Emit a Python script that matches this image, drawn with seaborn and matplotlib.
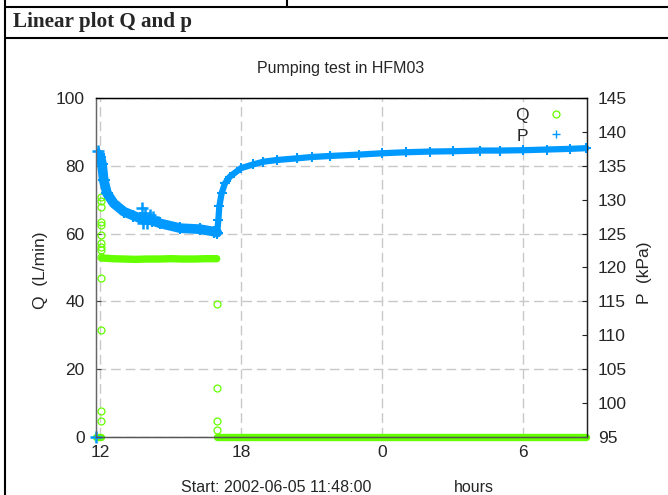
import seaborn as sns
import matplotlib.pyplot as plt
from matplotlib.lines import Line2D

# -------- DATA --------
# time axis: clock hours on 2002-06-05, values above 24 are the next morning
# Q (L/min), left axis
q_start_hours = [11.82, 11.86, 11.90, 11.94, 11.98, 12.01]
q_start_vals = [0, 0, 0, 0, 0, 0]

q_jump_hours = [12.02, 12.02, 12.03, 12.03, 12.04, 12.04, 12.04,
                12.03, 12.03, 12.03, 12.03, 12.02, 12.02, 12.02]
q_jump_vals = [7.8, 4.8, 31.5, 46.8, 53.2, 55.2, 56.1,
               57.1, 59.6, 62.5, 63.5, 67.9, 69.7, 70.9]

q_pump_hours = [12.08, 12.5, 13.0, 13.5, 14.0, 14.5, 15.0, 15.5, 16.0, 16.5, 16.95]
q_pump_vals = [52.8, 52.6, 52.5, 52.4, 52.5, 52.5, 52.6, 52.5, 52.5, 52.6, 52.6]

q_stop_hours = [16.97, 16.97, 16.97, 16.97]
q_stop_vals = [39.2, 14.4, 4.8, 2.1]

q_rest_hours = [16.98, 18.0, 20.0, 22.0, 24.0, 26.0, 28.0, 30.0, 32.68]
q_rest_vals = [0, 0, 0, 0, 0, 0, 0, 0, 0]

# P (kPa), right axis
p_first_hours = [11.82]
p_first_vals = [95.0]

p_pump_hours = [11.87, 11.93, 12.00, 12.07, 12.14, 12.28, 12.57, 12.99, 13.40,
                13.70, 14.20, 14.55, 15.40, 16.25, 16.82, 16.97]
p_pump_vals = [136.6, 136.7, 136.3, 135.2, 132.9, 130.95, 129.45, 128.25, 127.65,
               127.25, 126.9, 126.5, 125.8, 125.65, 125.3, 125.15]

p_noise_hours = [11.90, 13.75, 13.80, 13.90, 14.00, 14.10, 14.25]
p_noise_vals = [137.2, 128.75, 126.5, 128.0, 126.6, 127.75, 127.4]

p_recov_hours = [16.97, 17.02, 17.06, 17.16, 17.30, 17.51, 17.98, 18.50, 18.93, 19.50,
                 20.36, 21.00, 21.77, 23.00, 23.99, 25.00, 26.01, 27.00, 28.14, 29.00,
                 30.00, 31.00, 32.00, 32.68]
p_recov_vals = [125.15, 127.0, 129.0, 130.95, 132.4, 133.4, 134.65, 135.2, 135.6, 135.85,
                136.1, 136.3, 136.45, 136.65, 136.85, 137.0, 137.1, 137.15, 137.25, 137.25,
                137.3, 137.4, 137.5, 137.6]

x_ticks = [12, 18, 24, 30]
x_tick_labels = ["12", "18", "0", "6"]

# -------- STYLE --------
green = "#66ff00"
blue = "#0099ff"
grid_col = "#c8c8c8"
fs = 12.5

sns.set_style("white")
plt.rcParams["font.family"] = ["Liberation Sans", "DejaVu Sans"]

fig = plt.figure(figsize=(6.68, 4.95), dpi=100)
ax = fig.add_axes([0.1433, 0.1172, 0.7350, 0.6848])
ax2 = ax.twinx()

# -------- Q --------
for hx, hy in [(q_start_hours, q_start_vals), (q_pump_hours, q_pump_vals),
               (q_rest_hours, q_rest_vals)]:
    sns.lineplot(x=hx, y=hy, ax=ax, color=green, lw=5.3, sort=False,
                 estimator=None, solid_capstyle="round", clip_on=False)
for hx, hy in [(q_jump_hours, q_jump_vals), (q_stop_hours, q_stop_vals)]:
    sns.lineplot(x=hx, y=hy, ax=ax, color=green, linestyle="", marker="o",
                 mfc="none", mec=green, ms=5, mew=0.9, sort=False, estimator=None)

# -------- P --------
sns.lineplot(x=p_pump_hours, y=p_pump_vals, ax=ax2, color=blue, lw=7, sort=False,
             estimator=None, solid_capstyle="round", marker="+", ms=8, mew=1.5,
             mec=blue)
sns.lineplot(x=p_recov_hours, y=p_recov_vals, ax=ax2, color=blue, lw=4.5, sort=False,
             estimator=None, solid_capstyle="round", marker="+", ms=7.5, mew=1.5,
             mec=blue, clip_on=False)
sns.lineplot(x=p_noise_hours + p_first_hours, y=p_noise_vals + p_first_vals, ax=ax2,
             color=blue, linestyle="", marker="+", ms=8, mew=1.8, mec=blue, sort=False,
             estimator=None, clip_on=False)

# -------- AXES --------
ax.set_xlim(11.8, 32.7)
ax.set_ylim(0, 100)
ax2.set_ylim(95, 145)
ax.set_xticks(x_ticks)
ax.set_xticklabels(x_tick_labels)
ax.set_xticks([12 + 0.5 * i for i in range(42)], minor=True)
ax.set_yticks([0, 20, 40, 60, 80, 100])
ax2.set_yticks(list(range(95, 150, 5)))
ax.set_xlabel("")
ax.set_ylabel("")
ax2.set_ylabel("")

ax.grid(True, color=grid_col, lw=1.0, linestyle=(0, (7, 3.5)))
ax.set_axisbelow(True)

ax.tick_params(axis="both", which="major", direction="in", length=3.5, width=0.8,
               labelsize=fs, color="#444444", pad=8)
ax.tick_params(axis="x", which="minor", direction="in", length=2.5, width=0.8,
               color="#444444")
ax.tick_params(axis="x", which="major", pad=6)
ax2.tick_params(axis="y", direction="in", length=3.5, width=0.8, labelsize=fs,
                color="#222222", pad=8)

for a in (ax, ax2):
    a.spines["left"].set_color("#666666")
    a.spines["bottom"].set_color("#555555")
    a.spines["top"].set_color("black")
    a.spines["right"].set_color("#222222")
    for s in a.spines.values():
        s.set_linewidth(0.9)

# legend (label first, gnuplot style)
handles = [Line2D([], [], color=green, linestyle="", marker="o", mfc="none", ms=5, mew=0.9),
           Line2D([], [], color=blue, linestyle="", marker="+", ms=6, mew=1.0)]
ax2.legend(handles, ["Q", "P"], loc="upper right", bbox_to_anchor=(565 / 668, 1 - 108 / 495),
           bbox_transform=fig.transFigure, frameon=False, markerfirst=False,
           fontsize=fs, handlelength=1.0, handletextpad=1.1, labelspacing=0.3,
           borderpad=0, borderaxespad=0)

# texts
fig.text(341 / 668, 1 - 68 / 495, "Pumping test in HFM03", ha="center", va="center",
         fontsize=11.5)
fig.text(276 / 668, 1 - 487 / 495, "Start: 2002-06-05 11:48:00", ha="center",
         va="center", fontsize=11.5)
fig.text(474 / 668, 1 - 487 / 495, "hours", ha="center", va="center", fontsize=11.5)
fig.text(40 / 668, 1 - 270 / 495, "Q  (L/min)", rotation=90, ha="center", va="center",
         fontsize=fs)
fig.text(645 / 668, 1 - 273 / 495, "P  (kPa)", rotation=90, ha="center", va="center",
         fontsize=fs)

# -------- TABLE FRAME AROUND THE FIGURE --------
fig.text(13 / 668, 1 - 22 / 495, "Linear plot Q and p", ha="left", va="center",
         fontsize=15.2, fontweight="bold", family=["Liberation Serif", "DejaVu Serif"])
frame_kw = dict(color="black", lw=1.5, transform=fig.transFigure)
fig.add_artist(Line2D([5 / 668, 1], [1 - 7 / 495, 1 - 7 / 495], **frame_kw))
fig.add_artist(Line2D([5 / 668, 1], [1 - 38 / 495, 1 - 38 / 495], **frame_kw))
fig.add_artist(Line2D([5 / 668, 5 / 668], [0, 1], **frame_kw))
fig.add_artist(Line2D([287 / 668, 287 / 668], [1 - 7 / 495, 1], **frame_kw))

fig.savefig("out.png", dpi=100)
plt.close(fig)
